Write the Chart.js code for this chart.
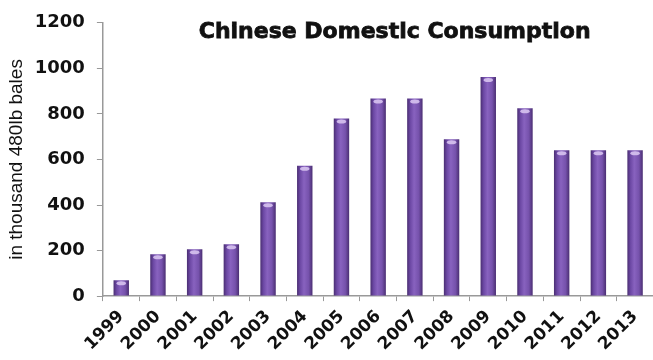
<!DOCTYPE html>
<html>
<head>
<meta charset="utf-8">
<script src="https://cdn.jsdelivr.net/npm/chart.js@4/dist/chart.umd.min.js"></script>
<style>
  html, body { margin: 0; padding: 0; background: #fff; overflow: hidden; }
  #wrap { width: 655px; height: 360px; }
</style>
</head>
<body>
<div id="wrap"><canvas id="chart"></canvas></div>
<script>
const years = ['1999','2000','2001','2002','2003','2004','2005','2006','2007','2008','2009','2010','2011','2012','2013'];
const consumption = [70, 184, 206, 228, 412, 572, 780, 868, 868, 689, 962, 825, 640, 640, 640];
const yTicks = [0, 200, 400, 600, 800, 1000, 1200];
const titleText = 'Chinese Domestic Consumption';
const yTitle = 'in thousand 480lb bales';

// cylinder look: horizontal gradient on every bar + small light cap
const barShade = {
  id: 'barShade',
  beforeDatasetsDraw(chart) {
    const ctx = chart.ctx;
    chart.getDatasetMeta(0).data.forEach(el => {
      const w = el.width, x0 = el.x - w / 2;
      const g = ctx.createLinearGradient(x0, 0, x0 + w, 0);
      g.addColorStop(0, '#4a2e72');
      g.addColorStop(0.2, '#6c48a4');
      g.addColorStop(0.45, '#8862bf');
      g.addColorStop(0.75, '#7652ac');
      g.addColorStop(1, '#4a2e72');
      el.options.backgroundColor = g;
    });
  },
  afterDatasetsDraw(chart) {
    const ctx = chart.ctx;
    ctx.save();
    chart.getDatasetMeta(0).data.forEach(el => {
      ctx.fillStyle = 'rgba(215,195,240,0.9)';
      ctx.beginPath();
      ctx.ellipse(el.x, el.y + 3, el.width / 2 - 3, 2, 0, 0, Math.PI * 2);
      ctx.fill();
    });
    ctx.restore();
  }
};

const titleDraw = {
  id: 'titleDraw',
  afterDraw(chart) {
    const ctx = chart.ctx, a = chart.chartArea;
    ctx.save();
    ctx.font = 'bold 22px "DejaVu Sans", sans-serif';
    ctx.fillStyle = '#111';
    ctx.strokeStyle = '#111';
    ctx.lineWidth = 0.8;
    ctx.textAlign = 'center';
    ctx.textBaseline = 'middle';
    const x = a.left + (a.right - a.left) * 0.53;
    ctx.fillText(titleText, x, a.top + 9);
    ctx.strokeText(titleText, x, a.top + 9);
    ctx.restore();
  }
};

new Chart(document.getElementById('chart'), {
  type: 'bar',
  data: {
    labels: years,
    datasets: [{
      data: consumption,
      backgroundColor: c => '#7350a8', // scriptable so every bar gets its own options
      borderWidth: 0,
      barPercentage: 0.42,
      categoryPercentage: 1
    }]
  },
  options: {
    responsive: true,
    maintainAspectRatio: false,
    animation: false,
    layout: { padding: { top: 12, right: 0, left: 5, bottom: 0 } },
    plugins: { legend: { display: false }, tooltip: { enabled: false } },
    scales: {
      x: {
        grid: { display: true, drawOnChartArea: false, tickLength: 5, color: '#999', offset: true },
        border: { color: '#999', width: 1.5 },
        ticks: {
          color: '#111', maxRotation: 45, minRotation: 45, padding: 5.5,
          font: { family: '"DejaVu Sans", sans-serif', size: 17, weight: 'bold' }
        }
      },
      y: {
        min: 0, max: 1200,
        afterBuildTicks: s => { s.ticks = yTicks.map(v => ({ value: v })); },
        grid: { display: true, drawOnChartArea: false, tickLength: 6, color: '#999' },
        border: { color: '#999', width: 1.5 },
        ticks: {
          color: '#111', padding: 12, callback: v => String(v),
          font: { family: '"DejaVu Sans", sans-serif', size: 18, weight: 'bold' }
        },
        title: {
          display: true, text: yTitle, color: '#111', padding: { top: 0, bottom: -5 },
          font: { family: '"Liberation Sans", Arial, sans-serif', size: 19 }
        }
      }
    }
  },
  plugins: [barShade, titleDraw]
});
</script>
</body>
</html>
